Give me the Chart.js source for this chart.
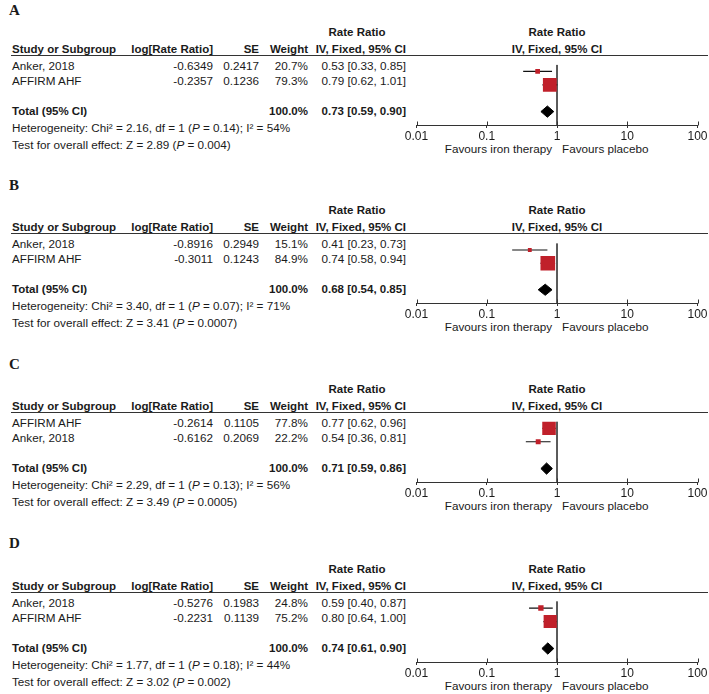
<!DOCTYPE html>
<html>
<head>
<meta charset="utf-8">
<script src="https://cdn.jsdelivr.net/npm/chart.js@4.4.1/dist/chart.umd.min.js"></script>
<style>
  html, body { margin: 0; padding: 0; background: #fff; }
  #root { position: relative; width: 709px; height: 694px; overflow: hidden; font-family: Arial, "Liberation Sans", sans-serif; color: #1a1a1a; }
  .t { position: absolute; font-size: 11.7px; line-height: 14px; white-space: nowrap; }
  .b { font-weight: bold; font-size: 11.5px; }
  .letter { position: absolute; font-family: "Liberation Serif", "Times New Roman", serif; font-weight: bold; font-size: 15px; line-height: 16px; }
  .hline { position: absolute; height: 1px; background: #333; }
  .plot { position: absolute; }
</style>
</head>
<body>
<div id="root"></div>
<script>
// ---------------- data ----------------
const panelLetters = ['A', 'B', 'C', 'D'];
const studyNames = [
  ['Anker, 2018', 'AFFIRM AHF'],
  ['Anker, 2018', 'AFFIRM AHF'],
  ['AFFIRM AHF', 'Anker, 2018'],
  ['Anker, 2018', 'AFFIRM AHF']
];
const logRateRatio = [
  ['-0.6349', '-0.2357'],
  ['-0.8916', '-0.3011'],
  ['-0.2614', '-0.6162'],
  ['-0.5276', '-0.2231']
];
const seValues = [
  ['0.2417', '0.1236'],
  ['0.2949', '0.1243'],
  ['0.1105', '0.2069'],
  ['0.1983', '0.1139']
];
const weights = [
  [20.7, 79.3],
  [15.1, 84.9],
  [77.8, 22.2],
  [24.8, 75.2]
];
const rateRatio = [
  [0.53, 0.79],
  [0.41, 0.74],
  [0.77, 0.54],
  [0.59, 0.80]
];
const ciLow = [
  [0.33, 0.62],
  [0.23, 0.58],
  [0.62, 0.36],
  [0.40, 0.64]
];
const ciHigh = [
  [0.85, 1.01],
  [0.73, 0.94],
  [0.96, 0.81],
  [0.87, 1.00]
];
const totalRR = [0.73, 0.68, 0.71, 0.74];
const totalLow = [0.59, 0.54, 0.59, 0.61];
const totalHigh = [0.90, 0.85, 0.86, 0.90];
const chi2 = ['2.16', '3.40', '2.29', '1.77'];
const hetP = ['0.14', '0.07', '0.13', '0.18'];
const iSquared = ['54', '71', '56', '44'];
const zValues = ['2.89', '3.41', '3.49', '3.02'];
const zP = ['0.004', '0.0007', '0.0005', '0.002'];
const tickValues = [0.01, 0.1, 1, 10, 100];
const tickLabels = ['0.01', '0.1', '1', '10', '100'];
const favoursLeft = 'Favours iron therapy';
const favoursRight = 'Favours placebo';

// ---------------- layout ----------------
const root = document.getElementById('root');
const panelTop = [0, 178, 357, 537];
const letterCenter = [9.5, 184.7, 363.7, 542.7];
const studyRows = [1, 2];
const totalRow = 4;
const Y_MIN = 0.5, Y_MAX = 5;

function txt(html, x, y, align, cls) {
  const d = document.createElement('div');
  d.className = 't' + (cls ? ' ' + cls : '');
  d.innerHTML = html;
  const w = 400;
  if (align === 'right') { d.style.left = (x - w) + 'px'; d.style.width = w + 'px'; d.style.textAlign = 'right'; }
  else if (align === 'center') { d.style.left = (x - w / 2) + 'px'; d.style.width = w + 'px'; d.style.textAlign = 'center'; }
  else { d.style.left = x + 'px'; }
  d.style.top = (y - 7) + 'px';
  root.appendChild(d);
  return d;
}

Chart.defaults.font.family = 'Arial, "Liberation Sans", sans-serif';
Chart.defaults.font.size = 12;
Chart.defaults.color = '#1a1a1a';

const tickMarkPlugin = {
  id: 'tickMarks',
  afterDraw(chart) {
    const xs = chart.scales.x;
    const y0 = Math.round(chart.chartArea.bottom) + 0.5;
    const ctx = chart.ctx;
    ctx.save();
    ctx.strokeStyle = '#333';
    ctx.lineWidth = 1;
    ctx.beginPath();
    xs.ticks.forEach(t => {
      const px = Math.round(xs.getPixelForValue(t.value)) + 0.5;
      ctx.moveTo(px, y0 - 4);
      ctx.lineTo(px, y0);
    });
    ctx.stroke();
    ctx.restore();
  }
};

const fmt = v => v.toFixed(2);
const squareSide = w => 1.5 + 0.155 * w;

panelLetters.forEach((letter, p) => {
  const top = panelTop[p];
  const L = document.createElement('div');
  L.className = 'letter';
  L.textContent = letter;
  L.style.left = '9px';
  L.style.top = (letterCenter[p] - 8) + 'px';
  root.appendChild(L);

  // headers
  txt('Rate Ratio', 357, top + 32, 'center', 'b');
  txt('Study or Subgroup', 12, top + 49, 'left', 'b');
  txt('log[Rate Ratio]', 213, top + 49, 'right', 'b');
  txt('SE', 259, top + 49, 'right', 'b');
  txt('Weight', 308, top + 49, 'right', 'b');
  txt('IV, Fixed, 95% CI', 406, top + 49, 'right', 'b');
  txt('Rate Ratio', 557, top + 32, 'center', 'b');
  txt('IV, Fixed, 95% CI', 557, top + 49, 'center', 'b');

  const hl = document.createElement('div');
  hl.className = 'hline';
  hl.style.left = '11px';
  hl.style.width = '697px';
  hl.style.top = (top + 55) + 'px';
  root.appendChild(hl);

  // study rows
  const rowY = [top + 66, top + 81];
  studyNames[p].forEach((name, i) => {
    txt(name, 12, rowY[i], 'left');
    txt(logRateRatio[p][i], 213, rowY[i], 'right');
    txt(seValues[p][i], 259, rowY[i], 'right');
    txt(weights[p][i].toFixed(1) + '%', 308, rowY[i], 'right');
    txt(fmt(rateRatio[p][i]) + ' [' + fmt(ciLow[p][i]) + ', ' + fmt(ciHigh[p][i]) + ']', 406, rowY[i], 'right');
  });
  txt('Total (95% CI)', 12, top + 111, 'left', 'b');
  txt('100.0%', 308, top + 111, 'right', 'b');
  txt(fmt(totalRR[p]) + ' [' + fmt(totalLow[p]) + ', ' + fmt(totalHigh[p]) + ']', 406, top + 111, 'right', 'b');
  txt('Heterogeneity: Chi² = ' + chi2[p] + ', df = 1 (<i>P</i> = ' + hetP[p] + '); I² = ' + iSquared[p] + '%', 12, top + 128, 'left');
  txt('Test for overall effect: Z = ' + zValues[p] + ' (<i>P</i> = ' + zP[p] + ')', 12, top + 145, 'left');
  txt(favoursLeft, 552, top + 149, 'right');
  txt(favoursRight, 562, top + 149, 'left');

  // forest plot
  const wrap = document.createElement('div');
  wrap.className = 'plot';
  wrap.style.left = '396px';
  wrap.style.top = (top + 55) + 'px';
  const cv = document.createElement('canvas');
  cv.width = 313; cv.height = 100;
  cv.style.width = '313px'; cv.style.height = '100px';
  wrap.appendChild(cv);
  root.appendChild(wrap);

  const datasets = [];
  // squares
  datasets.push({
    data: studyRows.map((r, i) => ({ x: rateRatio[p][i], y: r })),
    pointStyle: 'rect',
    pointRadius: weights[p].map(w => squareSide(w) / Math.SQRT2),
    backgroundColor: '#c0202a',
    borderWidth: 0,
    showLine: false,
    order: 1
  });
  // diamond
  const dh = 0.42;
  datasets.push({
    data: [
      { x: totalLow[p], y: totalRow },
      { x: totalRR[p], y: totalRow - dh },
      { x: totalHigh[p], y: totalRow },
      { x: totalRR[p], y: totalRow + dh },
      { x: totalLow[p], y: totalRow }
    ],
    showLine: true,
    fill: 'shape',
    backgroundColor: '#000',
    borderColor: '#000',
    borderWidth: 1,
    pointRadius: 0,
    tension: 0,
    order: 1
  });
  // whiskers
  studyRows.forEach((r, i) => {
    datasets.push({
      data: [{ x: ciLow[p][i], y: r }, { x: ciHigh[p][i], y: r }],
      showLine: true,
      borderColor: '#111',
      borderWidth: 1.2,
      pointRadius: 0,
      order: 2
    });
  });
  // line of no effect
  datasets.push({
    data: [{ x: 1, y: Y_MIN }, { x: 1, y: Y_MAX }],
    showLine: true,
    borderColor: '#444',
    borderWidth: 1,
    pointRadius: 0,
    order: 3
  });

  new Chart(cv, {
    type: 'scatter',
    data: { datasets },
    options: {
      responsive: false,
      animation: false,
      devicePixelRatio: 1,
      layout: { padding: { left: 20.5, right: 11.5, top: 0, bottom: 0 } },
      plugins: { legend: { display: false }, tooltip: { enabled: false } },
      scales: {
        x: {
          type: 'logarithmic',
          min: 0.01,
          max: 100,
          afterBuildTicks: s => { s.ticks = tickValues.map(v => ({ value: v })); },
          afterFit: s => { s.height = 30; },
          border: { display: true, color: '#333', width: 1 },
          grid: { display: true, drawOnChartArea: false, drawTicks: true, tickLength: 3, color: '#333' },
          ticks: {
            autoSkip: false, maxRotation: 0, padding: 1,
            color: '#1a1a1a', font: { size: 12 },
            callback: v => tickLabels[tickValues.indexOf(v)]
          }
        },
        y: {
          type: 'linear', display: false, reverse: true, min: Y_MIN, max: Y_MAX
        }
      }
    },
    plugins: [tickMarkPlugin]
  });
});
</script>
</body>
</html>
